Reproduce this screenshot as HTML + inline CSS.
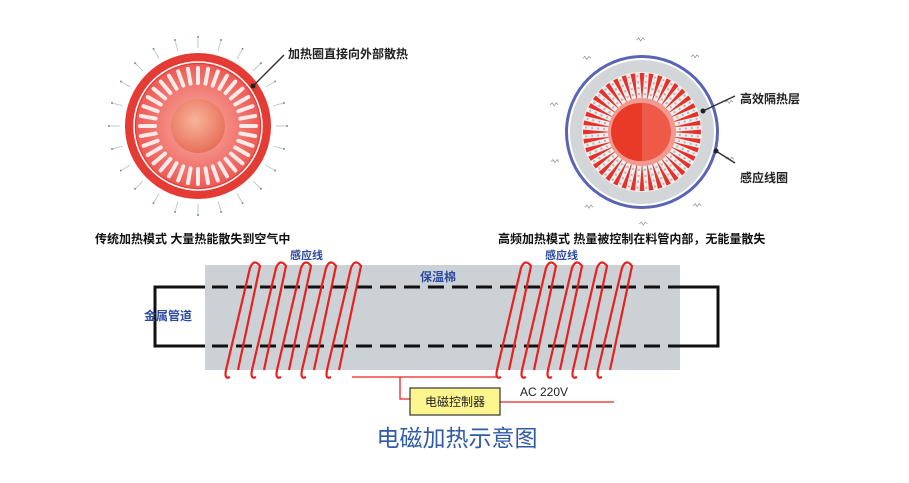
<!DOCTYPE html>
<html><head><meta charset="utf-8"><style>
html,body{margin:0;padding:0;background:#fff;}
svg{display:block;font-family:"Liberation Sans","Noto Sans CJK SC",sans-serif;}
</style></head><body>
<svg id="s" width="909" height="483" viewBox="0 0 909 483" xmlns="http://www.w3.org/2000/svg">
<defs>
<radialGradient id="lg" cx="50%" cy="50%" r="50%">
<stop offset="0" stop-color="#f7b5a8"/><stop offset="1" stop-color="#ee5a55"/></radialGradient>
<radialGradient id="core" cx="45%" cy="40%" r="60%">
<stop offset="0" stop-color="#f8b49a"/><stop offset="1" stop-color="#e8705a"/></radialGradient>
</defs>
<g id="left"></g>
<g id="right"></g>
<line x1="253" y1="86" x2="284" y2="55" stroke="#333" stroke-width="1.5"/>
<circle cx="253" cy="86" r="2.5" fill="#222"/>
<text x="288" y="58" font-size="12" font-weight="bold" fill="#222">加热圈直接向外部散热</text>
<text x="95" y="243" font-size="12" font-weight="bold" fill="#111">传统加热模式 大量热能散失到空气中</text>
<line x1="703" y1="111" x2="735" y2="96" stroke="#333" stroke-width="1.5"/>
<circle cx="703" cy="111" r="2.5" fill="#222"/>
<line x1="716" y1="151" x2="735" y2="163" stroke="#333" stroke-width="1.5"/>
<circle cx="716" cy="151" r="2.5" fill="#222"/>
<text x="740" y="103" font-size="12" font-weight="bold" fill="#222">高效隔热层</text>
<text x="740" y="182" font-size="12" font-weight="bold" fill="#222">感应线圈</text>
<text x="498" y="243" font-size="12" font-weight="bold" fill="#111">高频加热模式 热量被控制在料管内部，无能量散失</text>
<rect x="205" y="265" width="475" height="105" fill="#ccd1d6"/>
<path d="M205 287 H155 V346 H205" fill="none" stroke="#111" stroke-width="3"/>
<path d="M680 287 H718 V346 H680" fill="none" stroke="#111" stroke-width="3"/>
<line x1="212" y1="287" x2="680" y2="287" stroke="#111" stroke-width="3" stroke-dasharray="16 8"/>
<line x1="212" y1="346" x2="680" y2="346" stroke="#111" stroke-width="3" stroke-dasharray="16 8"/>
<g id="coils" fill="none" stroke="#e8201e" stroke-width="2.2"></g>
<path d="M352 377 H497 M400 377 V399 H410" fill="none" stroke="#e8201e" stroke-width="1.3"/>
<line x1="500" y1="402" x2="614" y2="402" stroke="#e8201e" stroke-width="1.3"/>
<rect x="410" y="388" width="90" height="27" fill="#fdf68f" stroke="#333" stroke-width="1.2"/>
<text x="455" y="406" font-size="12" text-anchor="middle" fill="#222">电磁控制器</text>
<text x="520" y="396" font-size="12" fill="#222">AC 220V</text>
<text x="290" y="259" font-size="11" font-weight="bold" fill="#2c4aa0">感应线</text>
<text x="545" y="259" font-size="11" font-weight="bold" fill="#2c4aa0">感应线</text>
<text x="420" y="281" font-size="12" font-weight="bold" fill="#2c4aa0">保温棉</text>
<text x="144" y="320" font-size="12" font-weight="bold" fill="#2c4aa0">金属管道</text>
<text x="457" y="446" font-size="23" text-anchor="middle" fill="#2f5aa8">电磁加热示意图</text>
</svg>
<script>
var NS="http://www.w3.org/2000/svg";
function el(p,t,a){var e=document.createElementNS(NS,t);for(var k in a)e.setAttribute(k,a[k]);p.appendChild(e);return e;}
var L=document.getElementById('left'),cx=198,cy=126;
for(var i=0;i<24;i++){var a=i*Math.PI*2/24;el(L,'line',{x1:cx+Math.cos(a)*78,y1:cy+Math.sin(a)*78,x2:cx+Math.cos(a)*88,y2:cy+Math.sin(a)*88,stroke:'#bcc',"stroke-width":1});
el(L,'circle',{cx:cx+Math.cos(a)*89,cy:cy+Math.sin(a)*89,r:1,fill:'#889'});}
el(L,'circle',{cx:cx,cy:cy,r:73,fill:'#e43c35'});
el(L,'circle',{cx:cx,cy:cy,r:64,fill:'none',stroke:'#fff',"stroke-width":1.5});
el(L,'circle',{cx:cx,cy:cy,r:62,fill:'url(#lg)'});
for(var i=0;i<36;i++){var a=i*Math.PI*2/36;el(L,'line',{x1:cx+Math.cos(a)*43,y1:cy+Math.sin(a)*43,x2:cx+Math.cos(a)*58,y2:cy+Math.sin(a)*58,stroke:'#fbeaea',"stroke-width":4,"stroke-linecap":"round"});}
el(L,'circle',{cx:cx,cy:cy,r:27,fill:'url(#core)'});
var R=document.getElementById('right');cx=642;cy=132;
for(var i=0;i<10;i++){var a=i*Math.PI*2/10+0.3;var x=cx+Math.cos(a)*92,y=cy+Math.sin(a)*92;el(R,'path',{d:'M'+(x-4)+' '+y+' l2 -2 l2 3 l2 -3 l2 2',fill:'none',stroke:'#999',"stroke-width":0.8});}
el(R,'circle',{cx:cx,cy:cy,r:77,fill:'#5a64b4'});
el(R,'circle',{cx:cx,cy:cy,r:74,fill:'#fff'});
el(R,'circle',{cx:cx,cy:cy,r:72,fill:'#d3d6d8'});
el(R,'circle',{cx:cx,cy:cy,r:60,fill:'#eee'});
for(var i=0;i<40;i++){var a=i*Math.PI*2/40;var a1=a-0.04,a2=a+0.04;
el(R,'path',{d:'M'+(cx+Math.cos(a)*30)+' '+(cy+Math.sin(a)*30)+' L'+(cx+Math.cos(a1)*59)+' '+(cy+Math.sin(a1)*59)+' L'+(cx+Math.cos(a2)*59)+' '+(cy+Math.sin(a2)*59)+'Z',fill:'#e8302a'});
var b=a+Math.PI/40;for(var r=38;r<58;r+=6)el(R,'circle',{cx:cx+Math.cos(b)*r,cy:cy+Math.sin(b)*r,r:1.2,fill:'#bbb'});}
el(R,'circle',{cx:cx,cy:cy,r:34,fill:'#f29a90'});
el(R,'circle',{cx:cx-2,cy:cy,r:29,fill:'#e83a26'});
el(R,'path',{d:'M'+(cx)+' '+(cy-29)+' A29 29 0 0 1 '+cx+' '+(cy+29)+'Z',fill:'#ee5a48'});
var C=document.getElementById('coils');
function coil(x){el(C,'path',{d:'M'+(x-2)+' 377 Q'+(x-8)+' 380 '+(x-6)+' 370 L'+(x+18)+' 268 Q'+(x+22)+' 258 '+(x+28)+' 266 L'+(x+6)+' 370'});}
[232,258,283,308,333].forEach(coil);
[503,528,554,579,604].forEach(coil);
</script>
</body></html>
